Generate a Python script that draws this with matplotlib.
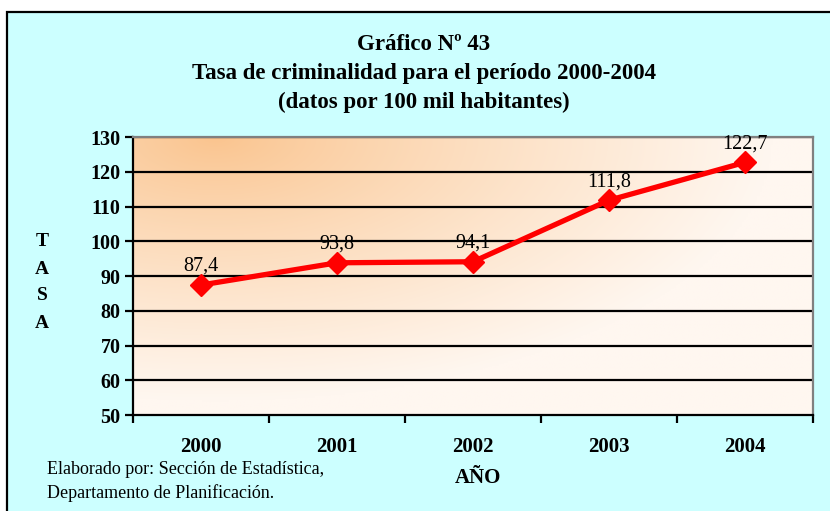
import numpy as np
import matplotlib.pyplot as plt
from matplotlib.patches import Rectangle

anios = ['2000', '2001', '2002', '2003', '2004']
tasa = [87.4, 93.8, 94.1, 111.8, 122.7]
etiquetas = ['87,4', '93,8', '94,1', '111,8', '122,7']
y_ticks = [50, 60, 70, 80, 90, 100, 110, 120, 130]

plt.rcParams['font.family'] = ['Liberation Serif', 'DejaVu Serif']

fig = plt.figure(figsize=(8.3, 5.11), dpi=100)
fig.patch.set_facecolor('white')

# marco celeste del gráfico
fig.patches.append(Rectangle((7 / 830, -0.1), 1.2, 1 - 12 / 511 + 0.1,
                             transform=fig.transFigure, facecolor='#CCFFFF',
                             edgecolor='black', linewidth=1.6, zorder=-5))

ax = fig.add_axes([133 / 830, 1 - 415 / 511, 680 / 830, 278 / 511])
ax.set_facecolor('none')

# fondo degradado: naranja arriba a la izquierda, crema hacia la derecha y abajo
gx, gy = np.meshgrid(np.linspace(0, 1, 300), np.linspace(0, 1, 200))
d = np.sqrt(((gx - 0.12) / 0.82) ** 2 + (gy / 0.95) ** 2)
t = np.clip(d, 0, 1) ** 0.85
c0 = np.array([250, 196, 142]) / 255
c1 = np.array([255, 247, 240]) / 255
img = c0[None, None, :] * (1 - t[..., None]) + c1[None, None, :] * t[..., None]
ax.imshow(img, extent=[-0.5, 4.5, 50, 130], origin='upper', aspect='auto',
          zorder=0, interpolation='bilinear')

x = np.arange(len(anios))
ax.set_xlim(-0.5, 4.5)
ax.set_ylim(50, 130)
ax.set_yticks(y_ticks)
for v in y_ticks[1:]:
    ax.axhline(v, color='black', linewidth=1.6, zorder=1)

ax.plot(x, tasa, color='#FF0000', linewidth=3.8, marker='D', markersize=11,
        zorder=3, clip_on=False)
for xi, v, lab in zip(x, tasa, etiquetas):
    ax.text(xi, v + 2.6, lab, ha='center', va='bottom', fontsize=14.5, zorder=4)

ax.set_xticks(x)
ax.set_xticklabels(anios, fontsize=15, fontweight='bold')
ax.set_xticks(np.arange(-0.5, 5, 1), minor=True)
ax.tick_params(axis='x', which='major', length=0, pad=16)
ax.tick_params(axis='x', which='minor', length=6, width=1.6, direction='out')
ax.tick_params(axis='y', length=6, width=1.6, direction='out', pad=3)
for lab in ax.get_yticklabels():
    lab.set_fontsize(14.5)
    lab.set_fontweight('bold')

for s in ['left', 'bottom']:
    ax.spines[s].set_color('black')
    ax.spines[s].set_linewidth(1.6)
for s in ['top', 'right']:
    ax.spines[s].set_color('#808080')
    ax.spines[s].set_linewidth(1.6)

titulos = ['Gráfico Nº 43', 'Tasa de criminalidad para el período 2000-2004',
           '(datos por 100 mil habitantes)']
for ty, txt in zip([45, 73, 102], titulos):
    fig.text(424 / 830, 1 - ty / 511, txt, ha='center', va='center',
             fontsize=16.5, fontweight='bold')

for ly, letra in zip([242, 269, 296, 323], 'TASA'):
    fig.text(42 / 830, 1 - ly / 511, letra, ha='center', va='center',
             fontsize=14, fontweight='bold')
fig.text(478 / 830, 1 - 478 / 511, 'AÑO', ha='center', va='center',
         fontsize=15, fontweight='bold')
fig.text(47 / 830, 1 - 470 / 511, 'Elaborado por: Sección de Estadística,',
         ha='left', va='center', fontsize=13)
fig.text(47 / 830, 1 - 493 / 511, 'Departamento de Planificación.',
         ha='left', va='center', fontsize=13)

fig.savefig('out.png', dpi=100)
